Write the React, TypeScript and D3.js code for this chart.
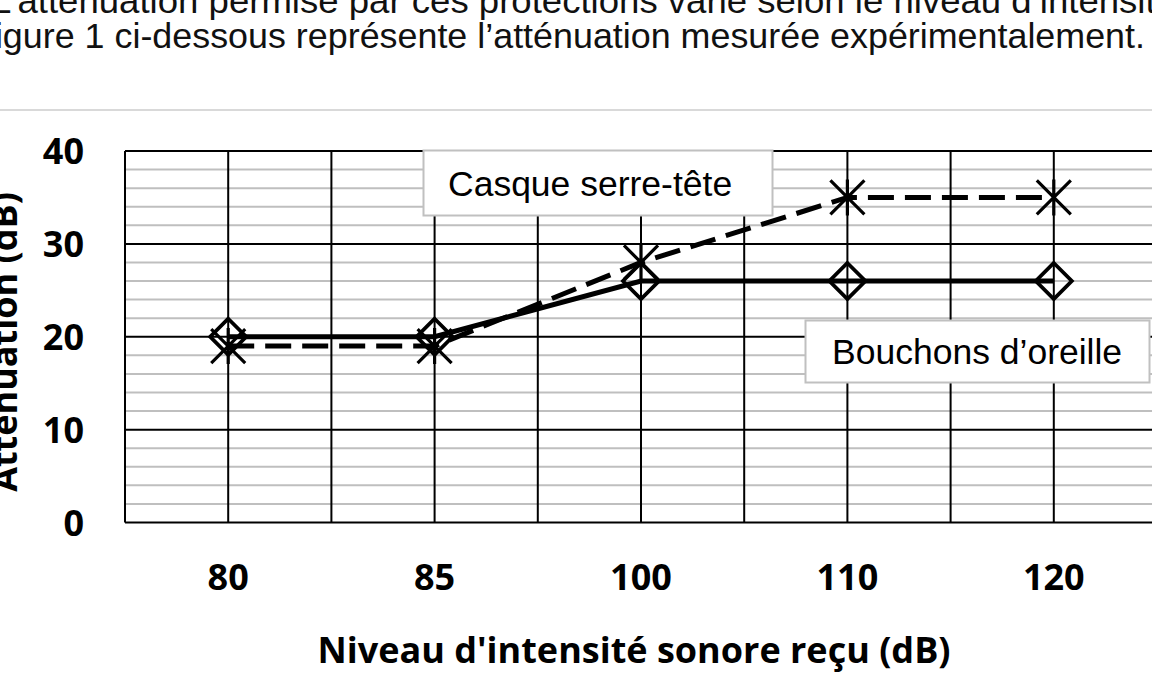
import * as d3 from 'd3';

// chart values
const niveaux = ['80', '85', '100', '110', '120'];
const bouchons = [20, 20, 26, 26, 26];
const casque = [19, 19, 28, 35, 35];
const yTicks = [0, 10, 20, 30, 40];
const minorTicks = d3.range(0, 41, 2).filter((v) => v % 10 !== 0);

const legendCasque = 'Casque serre-tête';
const legendBouchons = 'Bouchons d’oreille';
const xTitle = "Niveau d'intensité sonore reçu (dB)";
const yTitle = 'Atténuation (dB)';
const intro1 = 'L’atténuation permise par ces protections varie selon le niveau d’intensité';
const intro2 = 'Figure 1 ci-dessous représente l’atténuation mesurée expérimentalement.';

const width = 1152;
const height = 675;
const marginLeft = 125;
const plotRight = 1157;
const plotTop = 151;
const plotBottom = 522.5;

const boldFont = '"Open Sans", "DejaVu Sans", sans-serif';
const textFont = '"Liberation Sans", Arial, sans-serif';

export default function App() {
  const x = d3.scaleBand<string>().domain(niveaux).range([marginLeft, plotRight]);
  const y = d3.scaleLinear([0, 40], [plotBottom, plotTop]);
  const cx = (c: string) => (x(c) ?? 0) + x.bandwidth() / 2;

  // vertical grid at every band edge and band centre
  const vLines: number[] = [];
  niveaux.forEach((c) => {
    vLines.push(x(c) ?? 0);
    vLines.push(cx(c));
  });

  const line = d3.line<number>((d, i) => cx(niveaux[i]), (d) => y(d));

  const diamond = 'M0,-18L18,0L0,18L-18,0Z';
  const star = 'M-17,-17L17,17M-17,17L17,-17M0,-18L0,18';

  return (
    <svg
      width={width}
      height={height}
      style={{ position: 'absolute', left: 0, top: 0, background: '#fff' }}
    >
      <rect width={width} height={height} fill="#fff" />

      {/* text above the figure, cut by the crop */}
      <g fontFamily={textFont} fontSize={35} fill="#111">
        <text x={-9} y={13} textLength={1185} lengthAdjust="spacingAndGlyphs">{intro1}</text>
        <text x={-27} y={48} textLength={1172} lengthAdjust="spacingAndGlyphs">{intro2}</text>
      </g>
      <line x1={0} x2={width} y1={110} y2={110} stroke="#d9d9d9" strokeWidth={2} />

      {/* minor horizontal grid */}
      <g stroke="#bfbfbf" strokeWidth={2}>
        {minorTicks.map((t) => (
          <line key={t} x1={marginLeft} x2={plotRight} y1={y(t)} y2={y(t)} />
        ))}
      </g>
      {/* major grid */}
      <g stroke="#000" strokeWidth={2}>
        {yTicks.map((t) => (
          <line key={t} x1={marginLeft} x2={plotRight} y1={y(t)} y2={y(t)} />
        ))}
        {vLines.map((v, i) => (
          <line key={i} x1={v} x2={v} y1={plotTop} y2={plotBottom} />
        ))}
      </g>

      {/* y tick labels */}
      <g fontFamily={boldFont} fontWeight={700} fontSize={36} fill="#000" textAnchor="end">
        {yTicks.map((t) => (
          <text key={t} x={84} y={y(t) + 13}>{t}</text>
        ))}
      </g>
      {/* x tick labels */}
      <g fontFamily={boldFont} fontWeight={700} fontSize={36} fill="#000" textAnchor="middle">
        {niveaux.map((c) => (
          <text key={c} x={cx(c)} y={590}>{c}</text>
        ))}
      </g>
      <text
        x={634}
        y={663}
        fontFamily={boldFont}
        fontWeight={700}
        fontSize={36}
        textAnchor="middle"
      >
        {xTitle}
      </text>
      <text
        transform={`translate(17,342) rotate(-90)`}
        fontFamily={boldFont}
        fontWeight={700}
        fontSize={36}
        textAnchor="middle"
      >
        {yTitle}
      </text>

      {/* series */}
      <path d={line(bouchons) ?? ''} fill="none" stroke="#000" strokeWidth={5} />
      <path
        d={line(casque) ?? ''}
        fill="none"
        stroke="#000"
        strokeWidth={5}
        strokeDasharray="26,11"
      />
      <g fill="none" stroke="#000" strokeWidth={3.8}>
        {bouchons.map((d, i) => (
          <path key={i} d={diamond} transform={`translate(${cx(niveaux[i])},${y(d)})`} />
        ))}
      </g>
      <g fill="none" stroke="#000" strokeWidth={3.2}>
        {casque.map((d, i) => (
          <path key={i} d={star} transform={`translate(${cx(niveaux[i])},${y(d)})`} />
        ))}
      </g>

      {/* label boxes */}
      <g fontFamily={textFont} fontSize={35.5} fill="#000">
        <rect x={423.5} y={150.5} width={349} height={65} fill="#fff" stroke="#c0c0c0" strokeWidth={2} />
        <text x={448} y={196}>{legendCasque}</text>
        <rect x={805.5} y={320.5} width={344} height={62} fill="#fff" stroke="#c0c0c0" strokeWidth={2} />
        <text x={832} y={364}>{legendBouchons}</text>
      </g>
    </svg>
  );
}
